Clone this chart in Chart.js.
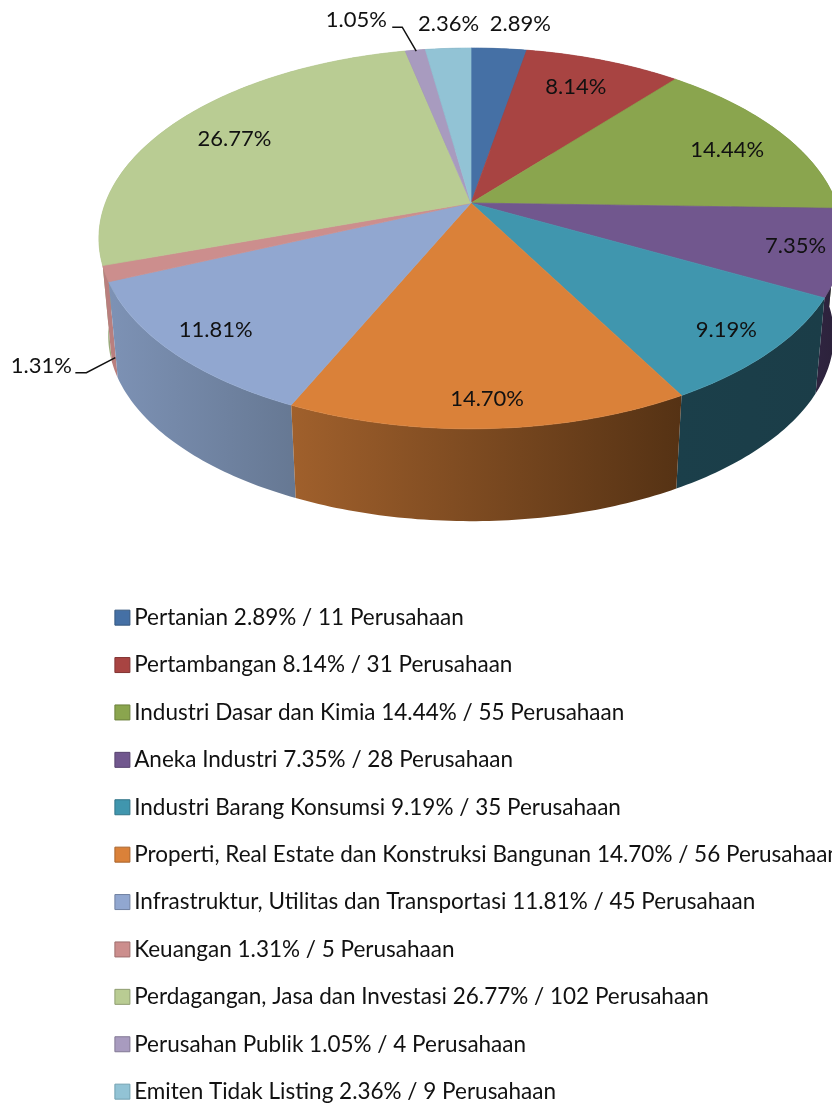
<!DOCTYPE html>
<html>
<head>
<meta charset="utf-8">
<title>Sektor Perusahaan</title>
<script src="https://cdn.jsdelivr.net/npm/chart.js@4/dist/chart.umd.min.js"></script>
<style>
  html, body { margin: 0; background: #fff; overflow: hidden; }
  canvas { display: block; }
</style>
</head>
<body>
<canvas id="pie" width="832" height="1103"></canvas>
<script>
// values
const sectors = [
    "Pertanian", "Pertambangan", "Industri Dasar dan Kimia", "Aneka Industri",
    "Industri Barang Konsumsi", "Properti, Real Estate dan Konstruksi Bangunan",
    "Infrastruktur, Utilitas dan Transportasi", "Keuangan",
    "Perdagangan, Jasa dan Investasi", "Perusahan Publik", "Emiten Tidak Listing"
];
const companies = [11, 31, 55, 28, 35, 56, 45, 5, 102, 4, 9];
const percents = ["2.89", "8.14", "14.44", "7.35", "9.19", "14.70", "11.81", "1.31", "26.77", "1.05", "2.36"];

// styling
const topColors = ["#4570A5", "#A84442", "#8AA54E", "#71578E", "#4096AE", "#DA8139", "#91A7D0", "#CC8E8D", "#B9CC93", "#A89BBF", "#92C3D5"];
const edgeColors = ["#35577f", "#823433", "#6b803c", "#57436e", "#317487", "#a9642c", "#7081a1", "#9e6e6d", "#8f9e72", "#827894", "#71a0b0"];
const wallLeft = ["#35557c", "#7c3231", "#6f8a3f", "#2f2440", "#1b3f4a", "#a0602c", "#7d92b5", "#b97f7e", "#9aab7c", "#75698a", "#6a8c99"];
const wallRight = ["#2b4566", "#642827", "#5a7033", "#2b2139", "#1b3d48", "#553214", "#667893", "#b97f7e", "#9aab7c", "#5f5570", "#55707a"];
const labelRadius = [1.19, 0.79, 0.79, 0.88, 0.87, 0.89, 0.87, 1, 0.78, 1, 1.19];
const labelShift = [[17, -1], [-3, 0], [8, 3], [0, 0], [0, 0], [0, 0], [0, 0], [-64, 92], [-5, 2], [-59, -30], [4, 0]];
const leaders = { 7: [[10, 84], [-19, 99], [-30, 99]], 9: [[1, 1], [-13, -23], [-23, -23]] };

// 3D view of the pie, the front of the plate is nearer than the back
const view = { cx: 471, cy: 203, rx: 365.6, ry: 183.8, near: 0.186, floorY: 301, floorScale: 0.975 };

function project(a, r) {
    const u = Math.cos(a) * r, v = Math.sin(a) * r;
    const s = 1 / (1 - view.near * v);
    return { x: view.cx + view.rx * u * s, y: view.cy + view.ry * v * s };
}

function floor(p) {
    return { x: view.cx + (p.x - view.cx) * view.floorScale, y: view.floorY + (p.y - view.cy) * view.floorScale };
}

function rim(arc) {
    const pts = [];
    const steps = Math.max(2, Math.ceil((arc.endAngle - arc.startAngle) / 0.015));
    for (let i = 0; i <= steps; i++) {
        pts.push(project(arc.startAngle + (arc.endAngle - arc.startAngle) * i / steps, 1));
    }
    return pts;
}

const pie3d = {
    id: "pie3d",
    afterLayout(chart) {
        // the legend sits under the pie, one entry per row
        chart.legend.left = 97;
        chart.legend.right = chart.width;
        chart.legend.top = 581.5;
        chart.legend.bottom = chart.height + 40;
    },
    beforeDatasetsDraw(chart) {
        const ctx = chart.ctx;
        const arcs = chart.getDatasetMeta(0).data;
        const order = arcs.map((a, i) => i).sort((p, q) =>
            Math.sin((arcs[p].startAngle + arcs[p].endAngle) / 2) - Math.sin((arcs[q].startAngle + arcs[q].endAngle) / 2));

        // side walls first, back to front
        order.forEach(i => {
            const top = rim(arcs[i]);
            const low = top.map(floor);
            const xs = top.concat(low).map(p => p.x);
            const grad = ctx.createLinearGradient(Math.min(...xs), 0, Math.max(...xs), 0);
            grad.addColorStop(0, wallLeft[i]);
            grad.addColorStop(1, wallRight[i]);
            ctx.beginPath();
            top.forEach((p, k) => k ? ctx.lineTo(p.x, p.y) : ctx.moveTo(p.x, p.y));
            low.reverse().forEach(p => ctx.lineTo(p.x, p.y));
            ctx.closePath();
            ctx.fillStyle = grad;
            ctx.fill();
        });

        // top face
        arcs.forEach((arc, i) => {
            ctx.beginPath();
            ctx.moveTo(view.cx, view.cy);
            rim(arc).forEach(p => ctx.lineTo(p.x, p.y));
            ctx.closePath();
            ctx.fillStyle = topColors[i];
            ctx.strokeStyle = topColors[i];
            ctx.lineWidth = 0.7;
            ctx.fill();
            ctx.stroke();
        });
        return false;
    },
    afterDraw(chart) {
        const ctx = chart.ctx;
        const arcs = chart.getDatasetMeta(0).data;
        ctx.save();
        ctx.font = "22px Lato";
        ctx.fillStyle = "#111";
        ctx.textAlign = "center";
        ctx.textBaseline = "middle";
        arcs.forEach((arc, i) => {
            const mid = (arc.startAngle + arc.endAngle) / 2;
            const p = project(mid, labelRadius[i]);
            ctx.fillText(percents[i] + "%", p.x + labelShift[i][0], p.y + labelShift[i][1]);
            if (leaders[i]) {
                const o = project(mid, 1);
                ctx.beginPath();
                leaders[i].forEach((d, k) => k ? ctx.lineTo(o.x + d[0], o.y + d[1]) : ctx.moveTo(o.x + d[0], o.y + d[1]));
                ctx.strokeStyle = "#111";
                ctx.lineWidth = 1.5;
                ctx.stroke();
            }
        });
        ctx.restore();
    }
};

const canvas = document.getElementById("pie");
canvas.getContext("2d").textRendering = "optimizeSpeed"; // no "ti" ligature

new Chart(canvas, {
    type: "pie",
    data: {
        labels: sectors.map((s, i) => s + " " + percents[i] + "% / " + companies[i] + " Perusahaan"),
        datasets: [{
            data: companies,
            backgroundColor: topColors,
            borderColor: edgeColors,
            borderWidth: 1
        }]
    },
    options: {
        responsive: false,
        animation: false,
        plugins: {
            tooltip: { enabled: false },
            legend: {
                position: "left",
                align: "start",
                labels: {
                    usePointStyle: true,
                    pointStyle: "rect",
                    boxWidth: 1,
                    boxHeight: 15,
                    padding: 24.9,
                    color: "#111",
                    font: { family: "Lato", size: 22.5 }
                }
            }
        }
    },
    plugins: [pie3d]
});
</script>
</body>
</html>
